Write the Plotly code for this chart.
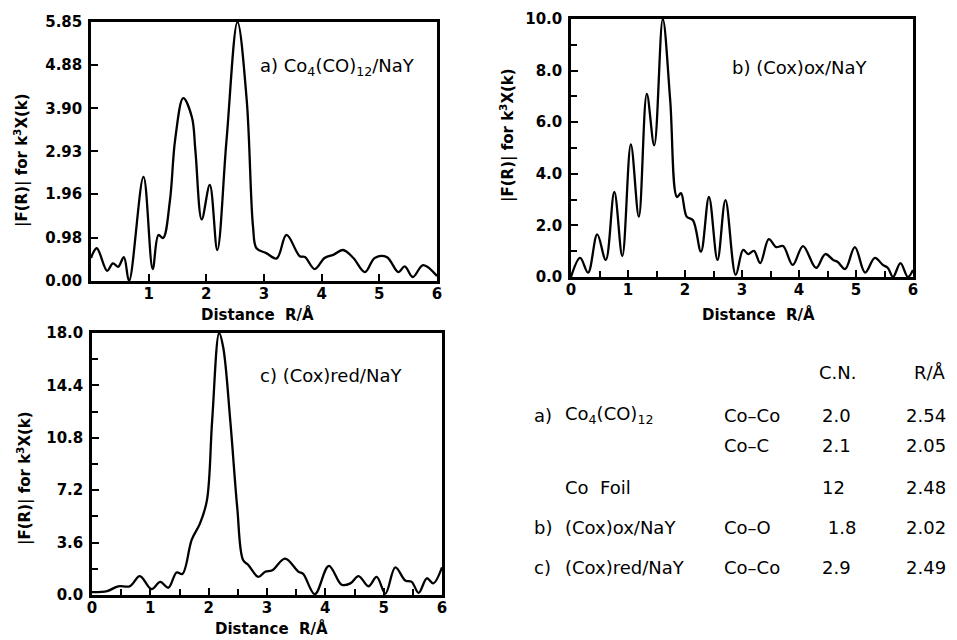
import plotly.graph_objects as go

# ---------------- data ----------------
r_a = [0.0, 0.10, 0.28, 0.38, 0.47, 0.57, 0.66, 0.91, 1.07, 1.17, 1.25, 1.37, 1.46, 1.60, 1.75, 1.81,
       1.92, 2.06, 2.19, 2.35, 2.54, 2.70, 2.81, 2.87, 3.04, 3.22, 3.39, 3.62, 3.71, 3.88, 4.05, 4.20,
       4.37, 4.55, 4.75, 4.92, 5.13, 5.33, 5.44, 5.58, 5.76, 6.0]
f_a = [0.52, 0.74, 0.23, 0.40, 0.32, 0.54, 0.0, 2.35, 0.27, 1.04, 0.97, 1.83, 3.2, 4.13, 3.7, 2.95,
       1.39, 2.17, 0.70, 3.18, 5.85, 4.09, 1.22, 0.74, 0.63, 0.51, 1.04, 0.56, 0.54, 0.27, 0.52, 0.59,
       0.70, 0.52, 0.20, 0.52, 0.54, 0.20, 0.33, 0.09, 0.36, 0.11]

r_b = [0.0, 0.16, 0.30, 0.46, 0.61, 0.76, 0.90, 1.05, 1.19, 1.33, 1.46, 1.61, 1.74, 1.86, 1.93, 2.03,
       2.14, 2.28, 2.42, 2.57, 2.71, 2.89, 3.02, 3.11, 3.21, 3.32, 3.47, 3.60, 3.72, 3.89, 4.07, 4.30,
       4.46, 4.60, 4.68, 4.81, 4.98, 5.16, 5.33, 5.47, 5.56, 5.65, 5.78, 5.91, 6.0]
f_b = [0.0, 0.74, 0.17, 1.65, 0.66, 3.3, 0.81, 5.14, 2.34, 7.1, 5.1, 10.0, 6.86, 3.1, 3.25, 2.34,
       2.2, 0.98, 3.1, 0.66, 2.98, 0.08, 1.05, 0.89, 1.01, 0.54, 1.47, 1.16, 1.2, 0.47, 1.2, 0.35,
       0.89, 0.66, 0.58, 0.31, 1.16, 0.17, 0.74, 0.47, 0.35, 0.0, 0.54, 0.0, 0.27]

r_c = [0.0, 0.26, 0.45, 0.65, 0.82, 1.02, 1.17, 1.31, 1.45, 1.55, 1.71, 1.85, 1.97, 2.06, 2.18, 2.25,
       2.37, 2.49, 2.59, 2.68, 2.85, 2.97, 3.09, 3.31, 3.54, 3.62, 3.82, 4.06, 4.28, 4.43, 4.57, 4.74,
       4.88, 5.03, 5.20, 5.37, 5.48, 5.60, 5.74, 5.85, 6.0]
f_c = [0.2, 0.27, 0.6, 0.6, 1.3, 0.4, 0.9, 0.5, 1.55, 1.45, 3.8, 4.9, 6.5, 12.0, 18.0, 17.0,
       12.0, 6.0, 2.4, 2.06, 1.24, 1.6, 1.7, 2.5, 1.6, 1.45, 0.05, 2.0, 0.7, 0.8, 1.3, 0.6,
       1.25, 0.1, 1.9, 1.0, 0.9, 0.15, 1.15, 0.8, 1.9]

ticks_a_y = [0.0, 0.98, 1.96, 2.93, 3.90, 4.88, 5.85]
ticks_a_y_text = ["0.00", "0.98", "1.96", "2.93", "3.90", "4.88", "5.85"]
ticks_b_y = [0, 2, 4, 6, 8, 10]
ticks_c_y = [0, 3.6, 7.2, 10.8, 14.4, 18.0]

panel_labels = ["a) Co<sub>4</sub>(CO)<sub>12</sub>/NaY", "b) (Cox)ox/NaY", "c) (Cox)red/NaY"]

table_header = ["C.N.", "R/Å"]
table_tag = ["a)", "", "", "b)", "c)"]
table_sample = ["Co<sub>4</sub>(CO)<sub>12</sub>", "", "Co\u00a0\u00a0Foil", "(Cox)ox/NaY", "(Cox)red/NaY"]
table_bond = ["Co–Co", "Co–C", "", "Co–O", "Co–Co"]
table_cn = ["2.0", "2.1", "12", "\u00a01.8", "2.9"]
table_r = ["2.54", "2.05", "2.48", "2.02", "2.49"]

# ---------------- figure ----------------
OFF = 8  # page body margin
W, H = 957 - 2 * OFF, 640 - OFF
def px(x): return (x - OFF) / W
def py(y): return 1 - (y - OFF) / H

fig = go.Figure()
line = dict(color="black", width=2.3, shape="spline", smoothing=1.0)
fig.add_trace(go.Scatter(x=r_a, y=f_a, mode="lines", line=line, xaxis="x", yaxis="y"))
fig.add_trace(go.Scatter(x=r_b, y=f_b, mode="lines", line=line, xaxis="x2", yaxis="y2"))
fig.add_trace(go.Scatter(x=r_c, y=f_c, mode="lines", line=line, xaxis="x3", yaxis="y3"))

tickfont = dict(family="DejaVu Sans", size=15, color="black", weight="bold")
common = dict(showline=True, linecolor="black", linewidth=2.5, mirror=True, ticks="inside",
              ticklen=7, tickwidth=2, tickcolor="black", showgrid=False, zeroline=False,
              tickfont=tickfont, fixedrange=True, automargin=False)
xcommon = dict(ticklabelstandoff=-3, **common)
ycommon = dict(ticklabelstandoff=3, **common)
minor_style = dict(ticks="inside", ticklen=6, tickwidth=2, tickcolor="black", showgrid=False)

fig.update_layout(
    template="none",
    width=W, height=H, margin=dict(l=0, r=0, t=0, b=0, autoexpand=False),
    paper_bgcolor="white", plot_bgcolor="white", showlegend=False,
    xaxis=dict(domain=[px(91), px(437)], range=[0, 6], tickvals=[1, 2, 3, 4, 5, 6], anchor="y", **xcommon),
    yaxis=dict(domain=[py(281), py(22)], range=[0, 5.85], tickvals=ticks_a_y, ticktext=ticks_a_y_text,
               anchor="x", **ycommon),
    xaxis2=dict(domain=[px(571), px(913)], range=[0, 6], dtick=1, anchor="y2",
                minor=dict(dtick=0.5, **minor_style), **xcommon),
    yaxis2=dict(domain=[py(277), py(19)], range=[0, 10], tickvals=ticks_b_y, tickformat=".1f", anchor="x2",
                minor=dict(dtick=1, **minor_style), **ycommon),
    xaxis3=dict(domain=[px(92), px(442)], range=[0, 6], dtick=1, anchor="y3",
                minor=dict(dtick=0.5, **minor_style), **xcommon),
    yaxis3=dict(domain=[py(595), py(333)], range=[0, 18], tickvals=ticks_c_y, tickformat=".1f", anchor="x3",
                minor=dict(dtick=1.8, **minor_style), **ycommon),
)

ann = []
titlefont = dict(family="DejaVu Sans", size=15, color="black", weight="bold")
ytitle = "|F(R)| for k<sup>3</sup>X(k)"
xtitle = "Distance\u00a0\u00a0R/Å"
for x, y in [(22, 160), (508, 135), (24, 478)]:
    ann.append(dict(x=px(x), y=py(y), xref="paper", yref="paper", text=ytitle, showarrow=False,
                    textangle=-90, font=titlefont, xanchor="center", yanchor="middle"))
for x, y in [(258, 314), (758, 314), (271, 628)]:
    ann.append(dict(x=px(x), y=py(y), xref="paper", yref="paper", text=xtitle, showarrow=False,
                    font=titlefont, xanchor="center", yanchor="middle"))

labfont = dict(family="DejaVu Sans", size=18, color="black")
for (x, y), t in zip([(258, 67), (730, 67), (258, 375)], panel_labels):
    ann.append(dict(x=px(x), y=py(y), xref="paper", yref="paper", text=t, showarrow=False,
                    font=labfont, xanchor="left", yanchor="middle"))

RIGHT = 948
tabfont = dict(family="DejaVu Sans", size=18, color="black")
ann.append(dict(x=px(817), y=py(372), xref="paper", yref="paper", text=table_header[0], showarrow=False,
                font=tabfont, xanchor="left", yanchor="middle"))
ann.append(dict(x=px(RIGHT), y=py(372), xref="paper", yref="paper", text=table_header[1], showarrow=False,
                font=tabfont, xanchor="right", yanchor="middle"))
row_y = [415, 445, 487, 527, 567]
cols = [(532, table_tag), (563, table_sample), (722, table_bond), (820, table_cn)]
for cx, vals in cols:
    for yy, v in zip(row_y, vals):
        if v:
            ann.append(dict(x=px(cx), y=py(yy), xref="paper", yref="paper", text=v, showarrow=False,
                            font=tabfont, xanchor="left", yanchor="middle"))
for yy, v in zip(row_y, table_r):
    ann.append(dict(x=px(RIGHT), y=py(yy), xref="paper", yref="paper", text=v, showarrow=False,
                    font=tabfont, xanchor="right", yanchor="middle"))

fig.update_layout(annotations=ann)
fig.write_html("out.html")
